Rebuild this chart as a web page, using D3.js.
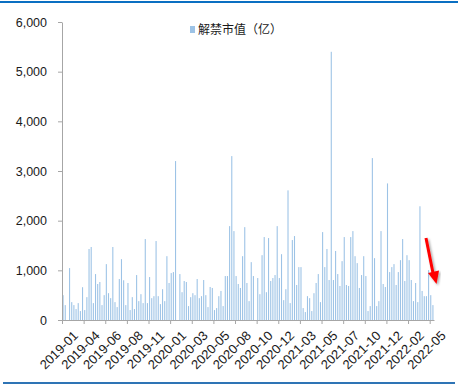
<!DOCTYPE html>
<html><head><meta charset="utf-8">
<script src="https://cdn.jsdelivr.net/npm/d3@7"></script>
<style>
html,body{margin:0;padding:0;background:#fff;}
svg{display:block;}
</style></head>
<body>
<script>
// Weekly unlock market value (亿)
const values = [
 500,300,0,1045,360,300,220,340,180,660,
 200,460,1430,1470,340,925,725,765,300,500,
 1125,540,440,1470,360,260,825,1225,800,300,
 745,200,460,220,905,380,520,340,1630,340,
 865,440,480,1590,480,320,620,380,1285,745,
 945,965,3200,0,925,560,785,765,280,460,
 540,500,825,440,480,805,500,260,665,645,
 200,240,480,585,280,885,885,1890,3300,1790,
 885,725,645,1285,1870,745,380,1165,885,0,
 845,520,1305,1670,560,1650,785,845,905,1890,
 845,1325,400,620,2610,340,1610,1690,705,1065,
 1065,240,160,480,440,180,540,745,925,360,
 1770,1065,1430,805,5400,805,1390,925,685,1185,
 1670,705,685,1670,1790,1285,1145,645,905,1285,
 885,180,280,3260,1245,280,380,1790,725,665,
 2750,965,1065,1125,705,965,1205,1630,785,1305,
 1205,805,380,745,360,2290,585,480,480,1005,
 500,300
];
const tickLabels = ["2019-01","2019-04","2019-06","2019-08","2019-11","2020-01","2020-03","2020-05","2020-08","2020-10","2020-12","2021-03","2021-05","2021-07","2021-10","2021-12","2022-02","2022-05"];
const yTicks = [0,1000,2000,3000,4000,5000,6000];
const seriesName = "解禁市值（亿）";

const W = 458, H = 386;
const svg = d3.select("body").append("svg").attr("width", W).attr("height", H);

// frame lines
svg.append("rect").attr("x",0).attr("y",1).attr("width",W).attr("height",2).attr("fill","#0A6FC2");
svg.append("rect").attr("x",3).attr("y",382).attr("width",452).attr("height",2).attr("fill","#2E74B5");

const N = values.length;
const x0 = 62, x1 = 434;
const xb = d3.scaleBand().domain(d3.range(N)).range([x0, x1]).paddingInner(0.5).paddingOuter(0.25);
const xl = d3.scaleLinear().domain([0, N]).range([x0, x1]);
const y = d3.scaleLinear().domain([0, 6000]).range([320, 22]);

// bars
svg.append("g").selectAll("rect").data(values).join("rect")
  .attr("x", (d,i) => xb(i))
  .attr("width", xb.bandwidth())
  .attr("y", d => y(d))
  .attr("height", d => y(0) - y(d))
  .attr("fill", "#9DC3E6");

// y axis
const yAxis = svg.append("g").attr("transform", `translate(${x0},0)`)
  .call(d3.axisLeft(y).tickValues(yTicks).tickFormat(d3.format(",")).tickSize(4).tickSizeOuter(0));
yAxis.select(".domain").attr("stroke","#A6A6A6");
yAxis.selectAll(".tick line").attr("stroke","#A6A6A6");
yAxis.selectAll("text").attr("font-family","Liberation Sans, Arial, sans-serif").attr("font-size","12.5px").attr("fill","#1a1a1a").attr("x",-15);

// x axis
const xAxis = svg.append("g").attr("transform", `translate(0,${y(0)})`)
  .call(d3.axisBottom(xl).tickValues(d3.range(0, N, 10)).tickFormat((d,i) => tickLabels[i]).tickSize(4).tickSizeOuter(0));
xAxis.select(".domain").attr("stroke","#A6A6A6");
xAxis.selectAll(".tick line").attr("stroke","#A6A6A6");
xAxis.selectAll("text")
  .attr("font-family","Liberation Sans, Arial, sans-serif").attr("font-size","13px").attr("fill","#1a1a1a")
  .attr("text-anchor","end")
  .attr("transform","translate(5,5) rotate(-45)")
  .attr("dy","0.7em").attr("dx","0");

// legend
const lg = svg.append("g").attr("transform","translate(190,30)");
lg.append("rect").attr("x",0).attr("y",-4).attr("width",5).attr("height",7).attr("fill","#9DC3E6");
lg.append("text").attr("x",8).attr("y",0).attr("dy","0.35em")
  .attr("font-family","Noto Sans CJK SC, sans-serif").attr("font-size","12px").attr("fill","#1a1a1a")
  .text(seriesName);

// red arrow annotation
const defs = svg.append("defs");
defs.append("filter").attr("id","sh").append("feDropShadow").attr("dx",1.5).attr("dy",1.5).attr("stdDeviation",1.2).attr("flood-color","#000").attr("flood-opacity",0.35);
const arrow = svg.append("g").attr("filter","url(#sh)");
arrow.append("line").attr("x1",426).attr("y1",238).attr("x2",433).attr("y2",273).attr("stroke","#FF0000").attr("stroke-width",3);
arrow.append("path").attr("d","M428,273 L439,270.5 L436.5,284 Z").attr("fill","#FF0000");
</script>
</body></html>
